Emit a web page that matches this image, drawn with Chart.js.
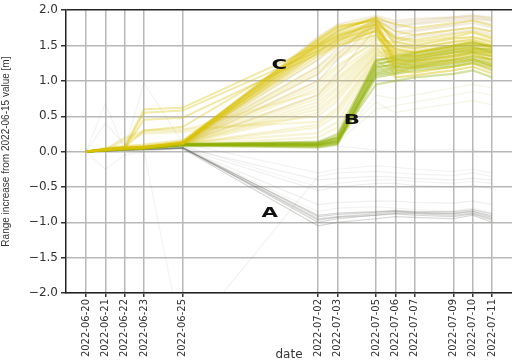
<!DOCTYPE html>
<html>
<head>
<meta charset="utf-8">
<script src="https://cdn.jsdelivr.net/npm/chart.js@4/dist/chart.umd.min.js"></script>
<style>
  html, body { margin: 0; padding: 0; background: #fff; }
</style>
</head>
<body>
<canvas id="range-chart" width="512" height="362"></canvas>
<script>
// survey dates (x positions come from these, so gaps between dates are kept)
const dates = ['2022-06-20', '2022-06-21', '2022-06-22', '2022-06-23', '2022-06-25',
  '2022-07-02', '2022-07-03', '2022-07-05', '2022-07-06', '2022-07-07',
  '2022-07-09', '2022-07-10', '2022-07-11'];

const yTicks = [-2.0, -1.5, -1.0, -0.5, 0.0, 0.5, 1.0, 1.5, 2.0];

// range increase [m] per survey, one row per track
const groupC = [
  [0, 0.03, 0.05, 0.06, 0.12, 1.55, 1.72, 1.88, 1.55, 1.50, 1.60, 1.62, 1.55],
  [0, 0.02, 0.04, 0.05, 0.11, 1.50, 1.65, 1.82, 1.25, 1.22, 1.30, 1.35, 1.28],
  [0, 0.04, 0.06, 0.07, 0.14, 1.60, 1.78, 1.85, 1.70, 1.65, 1.72, 1.75, 1.70],
  [0, 0.03, 0.05, 0.05, 0.13, 1.45, 1.60, 1.75, 1.15, 1.12, 1.20, 1.25, 1.18],
  [0, 0.02, 0.03, 0.04, 0.10, 1.40, 1.55, 1.70, 1.05, 1.08, 1.15, 1.20, 1.10],
  [0, 0.05, 0.08, 0.10, 0.16, 1.52, 1.70, 1.90, 1.80, 1.75, 1.82, 1.85, 1.78],
  [0, 0.03, 0.04, 0.06, 0.12, 1.35, 1.50, 1.65, 1.35, 1.32, 1.40, 1.45, 1.38],
  [0, 0.04, 0.07, 0.60, 0.62, 1.50, 1.65, 1.80, 1.60, 1.55, 1.62, 1.68, 1.60],
  [0, 0.03, 0.05, 0.55, 0.58, 1.42, 1.58, 1.72, 1.45, 1.40, 1.50, 1.55, 1.48],
  [0, 0.03, 0.06, 0.30, 0.35, 1.48, 1.62, 1.78, 1.42, 1.40, 1.48, 1.52, 1.45],
  [0, 0.02, 0.04, 0.06, 0.12, 1.53, 1.68, 1.84, 1.62, 1.58, 1.66, 1.70, 1.62],
  [0, 0.03, 0.05, 0.07, 0.13, 1.57, 1.75, 1.86, 1.30, 1.28, 1.36, 1.42, 1.35],
  [0, 0.02, 0.04, 0.06, 0.11, 1.47, 1.63, 1.80, 1.20, 1.18, 1.26, 1.30, 1.22],
  [0, 0.04, 0.06, 0.08, 0.14, 1.58, 1.76, 1.89, 1.50, 1.46, 1.55, 1.58, 1.50],
  [0, 0.03, 0.05, 0.06, 0.12, 1.43, 1.57, 1.76, 1.38, 1.35, 1.44, 1.48, 1.40],
  [0, 0.02, 0.05, 0.45, 0.48, 1.38, 1.52, 1.70, 1.28, 1.26, 1.34, 1.38, 1.30],
];

const groupSpread = [
  [0, 0.02, 0.04, 0.05, 0.10, 1.30, 1.48, 1.72, 1.45, 1.42, 1.50, 1.55, 1.48],
  [0, 0.03, 0.05, 0.06, 0.11, 1.20, 1.40, 1.65, 1.30, 1.28, 1.38, 1.42, 1.35],
  [0, 0.02, 0.03, 0.05, 0.10, 1.10, 1.32, 1.60, 1.40, 1.35, 1.45, 1.50, 1.42],
  [0, 0.03, 0.04, 0.06, 0.12, 1.00, 1.22, 1.55, 1.25, 1.22, 1.32, 1.38, 1.30],
  [0, 0.02, 0.05, 0.06, 0.10, 0.90, 1.12, 1.52, 1.30, 1.30, 1.38, 1.42, 1.35],
  [0, 0.03, 0.05, 0.07, 0.12, 0.80, 1.02, 1.48, 1.20, 1.20, 1.30, 1.35, 1.28],
  [0, 0.02, 0.04, 0.05, 0.10, 0.70, 0.92, 1.45, 1.22, 1.25, 1.32, 1.40, 1.30],
  [0, 0.03, 0.04, 0.05, 0.11, 0.60, 0.82, 1.40, 1.18, 1.20, 1.28, 1.32, 1.25],
  [0, 0.02, 0.15, 0.25, 0.28, 0.50, 0.72, 1.38, 1.45, 1.42, 1.52, 1.55, 1.48],
  [0, 0.03, 0.20, 0.30, 0.32, 0.42, 0.62, 1.35, 1.38, 1.36, 1.45, 1.48, 1.40],
  [0, 0.02, 0.04, 0.06, 0.11, 0.34, 0.52, 1.30, 1.10, 1.12, 1.20, 1.25, 1.18],
  [0, 0.03, 0.05, 0.06, 0.12, 0.26, 0.42, 1.28, 1.15, 1.18, 1.25, 1.30, 1.22],
  [0, 0.02, 0.04, 0.05, 0.10, 0.20, 0.34, 1.22, 1.05, 1.08, 1.15, 1.20, 1.12],
  [0, 0.03, 0.05, 0.07, 0.12, 0.95, 1.18, 1.58, 1.55, 1.52, 1.60, 1.62, 1.58],
  [0, 0.02, 0.04, 0.06, 0.11, 0.65, 0.88, 1.42, 1.35, 1.35, 1.42, 1.46, 1.40],
  [0, 0.03, 0.18, 0.28, 0.30, 0.85, 1.05, 1.50, 1.48, 1.46, 1.55, 1.58, 1.52],
  [0, 0.02, 0.04, 0.05, 0.11, 1.15, 1.36, 1.62, 1.52, 1.48, 1.56, 1.60, 1.55],
  [0, 0.03, 0.05, 0.06, 0.12, 0.75, 0.98, 1.46, 1.40, 1.40, 1.48, 1.52, 1.45],
  [0, 0.02, 0.04, 0.05, 0.10, 0.55, 0.78, 1.36, 1.32, 1.34, 1.40, 1.45, 1.38],
  [0, 0.03, 0.05, 0.06, 0.11, 0.38, 0.58, 1.32, 1.25, 1.28, 1.36, 1.40, 1.32],
];

const groupUpper = [
  [0, 0.03, 0.05, 0.06, 0.12, 1.62, 1.80, 1.92, 1.85, 1.88, 1.90, 1.92, 1.90],
  [0, 0.02, 0.04, 0.05, 0.11, 1.40, 1.60, 1.85, 1.75, 1.80, 1.85, 1.88, 1.85],
  [0, 0.03, 0.05, 0.07, 0.12, 1.20, 1.45, 1.80, 1.65, 1.70, 1.78, 1.82, 1.75],
  [0, 0.02, 0.04, 0.06, 0.11, 1.30, 1.55, 1.88, 1.70, 1.72, 1.80, 1.86, 1.80],
  [0, 0.03, 0.05, 0.06, 0.12, 1.50, 1.70, 1.90, 1.78, 1.82, 1.88, 1.90, 1.86],
  [0, 0.02, 0.04, 0.05, 0.10, 1.00, 1.30, 1.82, 1.60, 1.65, 1.72, 1.76, 1.70],
  [0, 0.03, 0.05, 0.06, 0.11, 0.80, 1.10, 1.75, 1.55, 1.62, 1.68, 1.72, 1.66],
  [0, 0.02, 0.04, 0.05, 0.11, 1.10, 1.38, 1.86, 1.82, 1.85, 1.90, 1.93, 1.88],
];

const groupB = [
  [0, 0.02, 0.04, 0.05, 0.10, 0.10, 0.15, 1.20, 1.22, 1.28, 1.35, 1.40, 1.35],
  [0, 0.02, 0.03, 0.05, 0.09, 0.08, 0.12, 1.15, 1.20, 1.25, 1.30, 1.35, 1.30],
  [0, 0.03, 0.04, 0.06, 0.11, 0.12, 0.20, 1.25, 1.28, 1.32, 1.42, 1.45, 1.45],
  [0, 0.02, 0.04, 0.05, 0.10, 0.10, 0.18, 1.10, 1.15, 1.20, 1.25, 1.30, 1.22],
  [0, 0.01, 0.03, 0.04, 0.08, 0.06, 0.10, 1.05, 1.10, 1.15, 1.20, 1.25, 1.15],
  [0, 0.02, 0.04, 0.05, 0.10, 0.14, 0.25, 1.30, 1.32, 1.38, 1.48, 1.52, 1.50],
  [0, 0.02, 0.03, 0.04, 0.09, 0.09, 0.14, 1.18, 1.25, 1.30, 1.40, 1.42, 1.40],
  [0, 0.02, 0.04, 0.05, 0.10, 0.11, 0.16, 0.95, 1.00, 1.05, 1.10, 1.15, 1.05],
  [0, 0.02, 0.04, 0.05, 0.10, 0.12, 0.22, 1.22, 1.30, 1.35, 1.45, 1.48, 1.42],
  [0, 0.02, 0.03, 0.05, 0.09, 0.07, 0.11, 1.12, 1.18, 1.22, 1.28, 1.32, 1.25],
  [0, 0.03, 0.04, 0.06, 0.11, 0.13, 0.19, 1.28, 1.35, 1.40, 1.50, 1.55, 1.48],
  [0, 0.02, 0.04, 0.05, 0.10, 0.09, 0.14, 1.08, 1.12, 1.18, 1.22, 1.28, 1.20],
];

const groupLow = [
  [0, 0.02, 0.04, 0.05, 0.10, 0.10, 0.15, 0.80, 0.75, 0.80, 0.90, 0.95, 0.90],
  [0, 0.02, 0.03, 0.05, 0.10, 0.10, 0.13, 0.60, 0.65, 0.70, 0.80, 0.85, 0.80],
  [0, 0.02, 0.04, 0.05, 0.10, 0.12, 0.18, 0.70, 0.55, 0.60, 0.68, 0.72, 0.66],
];

const groupA = [
  [0, 0.01, 0.02, 0.03, 0.05, -0.95, -0.92, -0.88, -0.85, -0.87, -0.88, -0.85, -0.93],
  [0, 0.01, 0.02, 0.03, 0.06, -1.00, -0.95, -0.90, -0.88, -0.90, -0.92, -0.88, -0.97],
  [0, 0.01, 0.02, 0.02, 0.04, -1.05, -1.00, -0.95, -0.92, -0.93, -0.95, -0.90, -1.00],
  [0, 0.02, 0.03, 0.03, 0.05, -0.90, -0.87, -0.85, -0.83, -0.85, -0.85, -0.82, -0.88],
  [0, 0.01, 0.02, 0.03, 0.05, -0.97, -0.93, -0.90, -0.87, -0.88, -0.90, -0.87, -0.95],
  [0, 0.02, 0.03, 0.03, 0.06, -0.92, -0.89, -0.86, -0.84, -0.86, -0.87, -0.84, -0.91],
];

const groupAFaint = [
  [0, 0.01, 0.02, 0.03, 0.05, -0.75, -0.72, -0.70, -0.70, -0.72, -0.73, -0.70, -0.75],
  [0, 0.01, 0.02, 0.03, 0.05, -0.55, -0.50, -0.45, -0.45, -0.48, -0.50, -0.48, -0.52],
  [0, 0.02, 0.03, 0.04, 0.06, -0.40, -0.38, -0.35, -0.36, -0.38, -0.40, -0.38, -0.40],
];

const stray = [
  [0, 0.68, 0.02, 0.03, 0.08, -0.50, -0.45, -0.40, -0.40, -0.42, -0.45, -0.42, -0.45],
  [0, 0.02, 0.05, 0.97, 0.12, -0.30, -0.25, -0.20, -0.22, -0.25, -0.28, -0.25, -0.30],
  [0, -0.25, -0.05, 0.00, 0.05, -0.85, -0.80, -0.78, -0.80, -0.82, -0.84, -0.80, -0.86],
  [0, 0.02, 0.02, 0.00, -2.70, -0.35, -0.30, -0.28, -0.30, -0.32, -0.34, -0.30, -0.35],
  [0, 0.40, 0.10, 0.05, 0.10, 0.05, 0.08, 0.02, 0.00, 0.02, 0.03, 0.02, 0.00],
];

// letter markers in data units: [text, date, value]
const markers = [
  ['C', '2022-06-30', 1.22],
  ['B', '2022-07-03T18:00', 0.45],
  ['A', '2022-06-29T12:00', -0.87],
];

const DAY = 864e5;
const t0 = Date.parse(dates[0]);
const dayOf = d => (Date.parse(d) - t0) / DAY;
const xs = dates.map(dayOf);

const toPoints = row => row.map((v, i) => ({ x: xs[i], y: v }));

const makeSets = (rows, color, width) => rows.map(row => ({
  data: toPoints(row),
  borderColor: color,
  borderWidth: width,
  pointRadius: 0,
  tension: 0,
  fill: false,
}));

// first dataset ends up on top
const datasets = [
  ...makeSets(groupC, 'rgba(218, 194, 0, 0.34)', 2),
  ...makeSets(groupB, 'rgba(140, 175, 0, 0.36)', 2.2),
  ...makeSets(groupLow, 'rgba(150, 180, 40, 0.12)', 1.2),
  ...makeSets(groupSpread, 'rgba(222, 198, 50, 0.2)', 2.2),
  ...makeSets(groupUpper, 'rgba(200, 172, 100, 0.22)', 2),
  ...makeSets(groupA, 'rgba(95, 100, 90, 0.25)', 1.2),
  ...makeSets(groupAFaint, 'rgba(120, 125, 115, 0.12)', 1.2),
  ...makeSets(stray, 'rgba(120, 120, 120, 0.09)', 1.2),
];

const minus = v => (v < 0 ? '\u2212' + Math.abs(v).toFixed(1) : v.toFixed(1));

// big letters on top of the tracks
const markerPlugin = {
  id: 'markers',
  afterDatasetsDraw(chart) {
    const { ctx, scales } = chart;
    ctx.save();
    ctx.fillStyle = '#111';
    ctx.font = 'bold 17px "DejaVu Sans"';
    ctx.textAlign = 'center';
    ctx.textBaseline = 'middle';
    markers.forEach(([txt, d, v]) => {
      const x = scales.x.getPixelForValue(dayOf(d));
      const y = scales.y.getPixelForValue(v);
      ctx.save();
      ctx.translate(x, y);
      ctx.scale(1.25, 0.85);
      ctx.fillText(txt, 0, 0);
      ctx.restore();
    });
    ctx.restore();
  },
};

const ctx = document.getElementById('range-chart');
new Chart(ctx, {
  type: 'line',
  data: { datasets },
  options: {
    responsive: false,
    animation: false,
    layout: { padding: { top: 6, right: 0, left: 0, bottom: 0 } },
    plugins: {
      legend: { display: false },
      tooltip: { enabled: false },
    },
    scales: {
      x: {
        type: 'linear',
        min: xs[0] - 1.035,
        max: xs[xs.length - 1] + 1.035,
        afterBuildTicks: scale => { scale.ticks = xs.map(v => ({ value: v })); },
        afterFit: scale => { scale.height = 69; },
        ticks: {
          autoSkip: false,
          maxRotation: 90,
          minRotation: 90,
          padding: 2,
          color: '#333',
          font: { family: 'DejaVu Sans', size: 10 },
          callback: (v, i) => dates[i],
        },
        grid: { color: '#b8b8b8', lineWidth: 1.5, tickLength: 4, tickColor: '#333' },
        border: { color: '#222', width: 1.5 },
        title: {
          display: true,
          text: 'date',
          color: '#333',
          font: { family: 'DejaVu Sans', size: 12 },
          padding: { top: 0, bottom: 0 },
        },
      },
      y: {
        min: -2,
        max: 2,
        afterBuildTicks: scale => { scale.ticks = yTicks.map(v => ({ value: v })); },
        afterFit: scale => { scale.width = 66; },
        ticks: {
          color: '#333',
          padding: 3,
          font: { family: 'DejaVu Sans', size: 12 },
          callback: v => minus(v),
        },
        grid: {
          color: c => (c.tick && c.tick.value === 2 ? '#222' : '#b8b8b8'),
          lineWidth: 1.5,
          tickLength: 5,
          tickColor: '#333',
        },
        border: { color: '#222', width: 1.5 },
        title: {
          display: true,
          text: 'Range increase from 2022-06-15 value [m]',
          color: '#333',
          font: { family: 'Liberation Sans', size: 10 },
          padding: { top: 0, bottom: 0 },
        },
      },
    },
  },
  plugins: [markerPlugin],
});
</script>
</body>
</html>
